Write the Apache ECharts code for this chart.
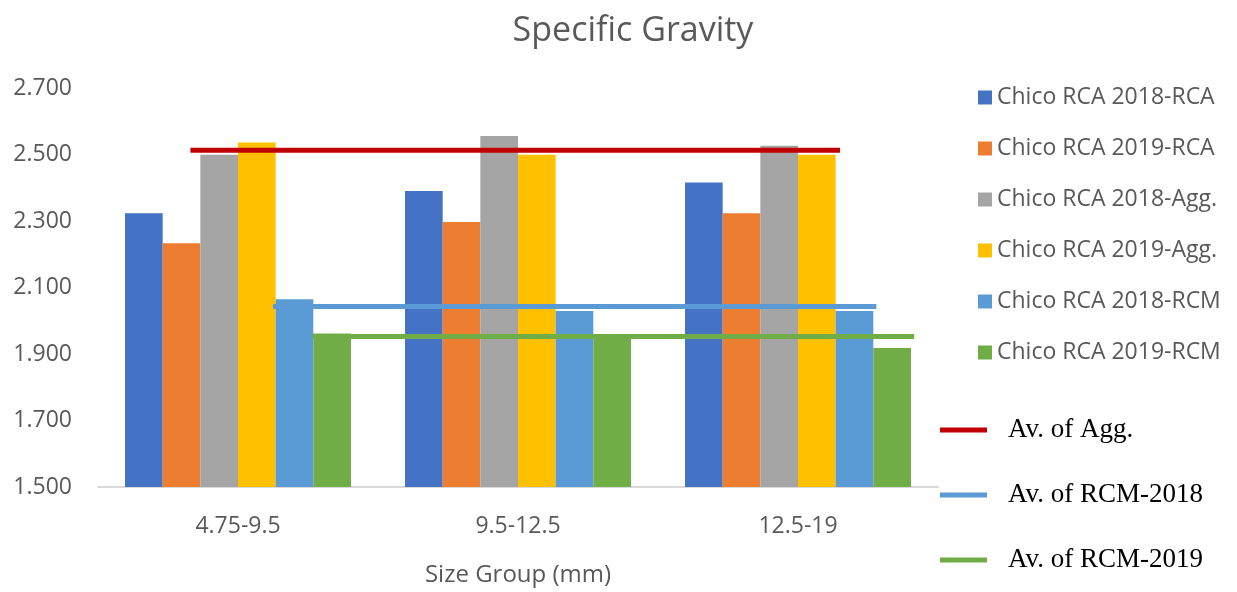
<!DOCTYPE html>
<html>
<head>
<meta charset="utf-8">
<script src="https://cdn.jsdelivr.net/npm/echarts@6/dist/echarts.min.js"></script>
<style>
  html, body { margin: 0; padding: 0; background: #ffffff; }
  #chart { width: 1237px; height: 592px; }
</style>
</head>
<body>
<div id="chart"></div>
<script>
// Size groups on the category axis
const categories = ['4.75-9.5', '9.5-12.5', '12.5-19'];

// Specific gravity per size group
const rca2018 = [2.323, 2.390, 2.416];
const rca2019 = [2.233, 2.297, 2.323];
const agg2018 = [2.499, 2.556, 2.526];
const agg2019 = [2.536, 2.499, 2.499];
const rcm2018 = [2.065, 2.029, 2.029];
const rcm2019 = [1.962, 1.960, 1.918];

// Average reference levels
const avgAgg = 2.513;
const avgRcm2018 = 2.043;
const avgRcm2019 = 1.953;

// Horizontal extent of each average line, in category units (group i spans i..i+1)
const spanAgg = [0.33, 2.65];
const spanRcm2018 = [0.625, 2.78];
const spanRcm2019 = [0.765, 2.915];

// Value axis ticks
const yMin = 1.5, yMax = 2.7, yStep = 0.2;

const barNames = [
  'Chico RCA 2018-RCA', 'Chico RCA 2019-RCA', 'Chico RCA 2018-Agg.',
  'Chico RCA 2019-Agg.', 'Chico RCA 2018-RCM', 'Chico RCA 2019-RCM'
];
const barValues = [rca2018, rca2019, agg2018, agg2019, rcm2018, rcm2019];
const barColors = ['#4472C4', '#ED7D31', '#A5A5A5', '#FFC000', '#5B9BD5', '#70AD47'];

const lineNames = ['Av. of Agg.', 'Av. of RCM-2018', 'Av. of RCM-2019'];
const lineLevels = [avgAgg, avgRcm2018, avgRcm2019];
const lineSpans = [spanAgg, spanRcm2018, spanRcm2019];
const lineColors = ['#C00000', '#5B9BD5', '#70AD47'];

const sans = 'Open Sans';
const grey = '#595959';

const series = [];
barNames.forEach((name, i) => {
  series.push({
    name: name,
    type: 'bar',
    xAxisIndex: 0,
    yAxisIndex: 0,
    data: barValues[i],
    itemStyle: { color: barColors[i] },
    barGap: '0%',
    barCategoryGap: '19.3%'
  });
});
lineNames.forEach((name, i) => {
  series.push({
    name: name,
    type: 'line',
    xAxisIndex: 1,
    yAxisIndex: 0,
    data: [[lineSpans[i][0], lineLevels[i]], [lineSpans[i][1], lineLevels[i]]],
    symbol: 'none',
    lineStyle: { color: lineColors[i], width: 5 },
    itemStyle: { color: lineColors[i] },
    z: 5
  });
});

const chart = echarts.init(document.getElementById('chart'), null, { renderer: 'canvas' });
chart.setOption({
  animation: false,
  backgroundColor: '#ffffff',
  title: {
    text: 'Specific Gravity',
    left: 628,
    top: 9,
    textAlign: 'center',
    textStyle: { fontFamily: sans, fontSize: 34, fontWeight: 'normal', color: grey }
  },
  legend: [
    {
      data: barNames,
      orient: 'vertical',
      left: 978,
      top: 86,
      padding: 0,
      icon: 'rect',
      itemWidth: 14,
      itemHeight: 14,
      itemGap: 28,
      textStyle: { fontFamily: sans, fontSize: 23, color: grey, lineHeight: 22 }
    },
    {
      data: lineNames.map(n => ({ name: n, icon: 'rect' })),
      orient: 'vertical',
      left: 940,
      top: 415,
      padding: 0,
      itemWidth: 47,
      itemHeight: 5,
      itemGap: 35,
      textStyle: {
        fontFamily: 'Liberation Serif', fontSize: 27, color: '#000000',
        lineHeight: 30, padding: [0, 0, 0, 16]
      }
    }
  ],
  grid: { left: 98, right: 299, top: 88, bottom: 94, containLabel: false },
  xAxis: [
    {
      type: 'category',
      data: categories,
      axisLine: { lineStyle: { color: '#D9D9D9', width: 2 } },
      axisTick: { show: false },
      axisLabel: { fontFamily: sans, fontSize: 23, color: grey, margin: 28 },
      name: 'Size Group (mm)',
      nameLocation: 'middle',
      nameGap: 76,
      nameTextStyle: { fontFamily: sans, fontSize: 24, color: grey }
    },
    {
      type: 'value',
      min: 0,
      max: 3,
      show: false
    }
  ],
  yAxis: {
    type: 'value',
    min: yMin,
    max: yMax,
    interval: yStep,
    axisLine: { show: false },
    axisTick: { show: false },
    splitLine: { show: false },
    axisLabel: {
      fontFamily: sans, fontSize: 23, color: grey, margin: 26,
      formatter: v => v.toFixed(3)
    }
  },
  series: series
});
</script>
</body>
</html>
